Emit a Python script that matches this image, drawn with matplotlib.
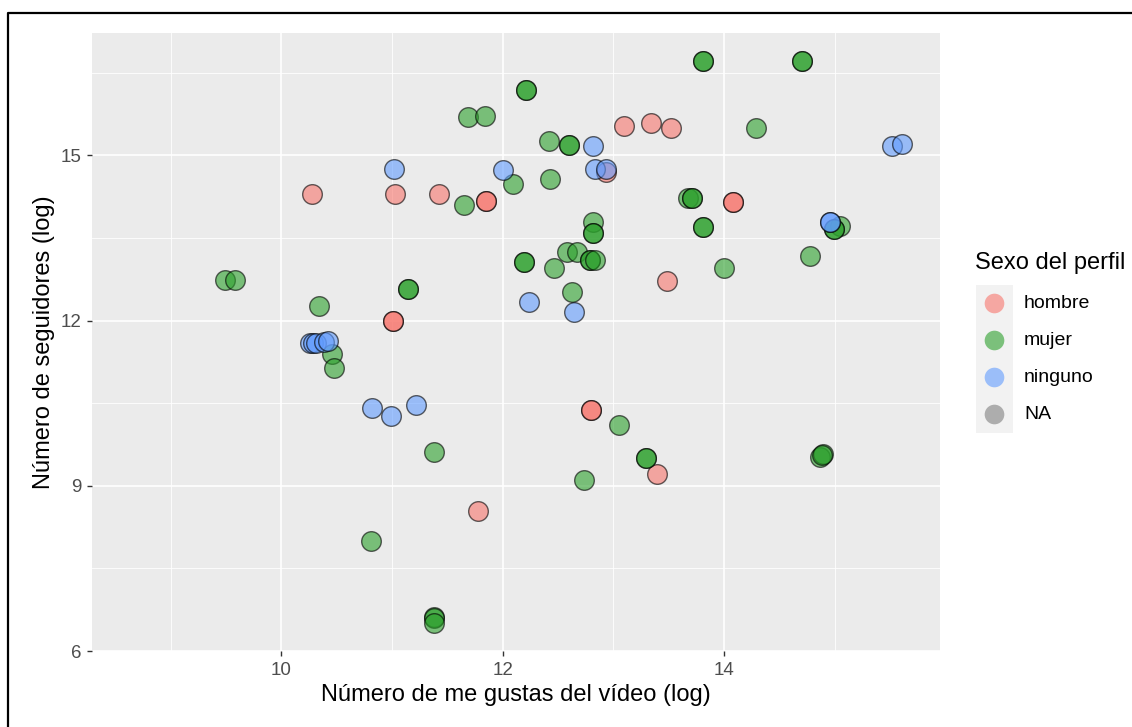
import matplotlib.pyplot as plt
from matplotlib.lines import Line2D
from matplotlib.patches import Rectangle

plt.rcParams["font.family"] = ["Liberation Sans", "DejaVu Sans"]

# values (log scale); repeated entries are overlapping points
hombre_x = [10.28, 11.03, 11.42, 11.85, 11.85, 11.01, 11.01, 11.78, 12.93, 13.10,
            13.34, 13.52, 13.48, 12.80, 12.80, 13.39, 14.08, 14.08]
hombre_y = [14.29, 14.29, 14.29, 14.17, 14.17, 12.00, 12.00, 8.55, 14.69, 15.54,
            15.58, 15.49, 12.71, 10.37, 10.37, 9.21, 14.16, 14.16]

mujer_x = [9.49, 9.58, 10.34, 10.46, 10.48, 11.14, 11.14, 11.38, 10.81, 11.38,
           11.38, 11.38, 11.65, 11.69, 11.84, 12.09, 12.21, 12.21, 12.42, 12.60,
           12.60, 12.43, 12.82, 12.82, 12.82, 12.58, 12.67, 12.79, 12.79, 12.83,
           12.19, 12.19, 12.46, 12.63, 12.73, 13.05, 13.29, 13.29, 13.81, 13.81,
           14.70, 14.70, 14.29, 13.67, 13.71, 13.71, 13.81, 13.81, 14.00, 14.78,
           15.05, 14.99, 14.99, 14.87, 14.89, 14.88]
mujer_y = [12.73, 12.73, 12.27, 11.39, 11.13, 12.58, 12.58, 9.61, 7.99, 6.62,
           6.60, 6.51, 14.09, 15.70, 15.71, 14.47, 16.19, 16.19, 15.26, 15.18,
           15.18, 14.57, 13.79, 13.59, 13.59, 13.24, 13.24, 13.10, 13.10, 13.10,
           13.07, 13.07, 12.96, 12.52, 9.11, 10.11, 9.51, 9.51, 16.71, 16.71,
           16.71, 16.71, 15.49, 14.23, 14.23, 14.23, 13.69, 13.69, 12.96, 13.17,
           13.72, 13.66, 13.66, 9.53, 9.58, 9.55]

ninguno_x = [11.02, 12.00, 12.82, 12.83, 12.93, 12.24, 12.64, 10.26, 10.29, 10.31,
             10.39, 10.42, 10.82, 10.99, 11.22, 15.52, 15.61, 14.96, 14.96]
ninguno_y = [14.75, 14.74, 15.16, 14.75, 14.75, 12.34, 12.16, 11.59, 11.59, 11.60,
             11.61, 11.62, 10.42, 10.26, 10.47, 15.16, 15.21, 13.79, 13.79]

groups = ["hombre", "mujer", "ninguno", "NA"]
colors = ["#F8766D", "#2CA02C", "#619CFF", "#7F7F7F"]
x_ticks = [10, 12, 14]
y_ticks = [6, 9, 12, 15]

W, H = 1132, 727
fig = plt.figure(figsize=(W / 100, H / 100), dpi=100)
ax = fig.add_axes([92 / W, 1 - 651 / H, (940 - 92) / W, (651 - 33) / H])
ax.set_facecolor("#EBEBEB")
for s in ax.spines.values():
    s.set_visible(False)

series = [(hombre_x, hombre_y), (mujer_x, mujer_y), (ninguno_x, ninguno_y)]
for (xs, ys), c in zip(series, colors):
    ax.scatter(xs, ys, s=200, facecolor=c, edgecolor="black", linewidths=1.0,
               alpha=0.6, zorder=3)

ax.set_xlim(8.29, 15.95)
ax.set_ylim(6.0, 17.22)
ax.set_xticks(x_ticks)
ax.set_yticks(y_ticks)
ax.set_xticks([9, 11, 13, 15], minor=True)
ax.set_yticks([7.5, 10.5, 13.5, 16.5], minor=True)
ax.grid(which="major", color="white", lw=1.2)
ax.grid(which="minor", color="white", lw=0.6)
ax.set_axisbelow(True)
ax.tick_params(which="major", length=3.6, width=1.0, color="#333333",
               labelcolor="#4D4D4D", labelsize=13.5, pad=4)
ax.tick_params(which="minor", length=0)
ax.set_xlabel("Número de me gustas del vídeo (log)", fontsize=17, labelpad=4)
ax.set_ylabel("Número de seguidores (log)", fontsize=17, labelpad=4)

# overlay in pixel units for the legend and the outer frame
ov = fig.add_axes([0, 0, 1, 1], zorder=5)
ov.set_xlim(0, W)
ov.set_ylim(H, 0)
ov.axis("off")
ov.add_line(Line2D([8, 8, W], [H, 12.5, 12.5], color="black", lw=1.6))

ov.text(975, 263, "Sexo del perfil", fontsize=17, va="center", ha="left")
ov.add_patch(Rectangle((976, 285), 37, 148, facecolor="#F2F2F2", edgecolor="none"))
for i, (g, c) in enumerate(zip(groups, colors)):
    yk = 303.5 + i * 37
    ov.scatter([994.5], [yk], s=200, facecolor=c, edgecolor="none", alpha=0.6)
    ov.text(1024, yk, g, fontsize=14, va="center", ha="left")

fig.savefig("out.png", dpi=100)
